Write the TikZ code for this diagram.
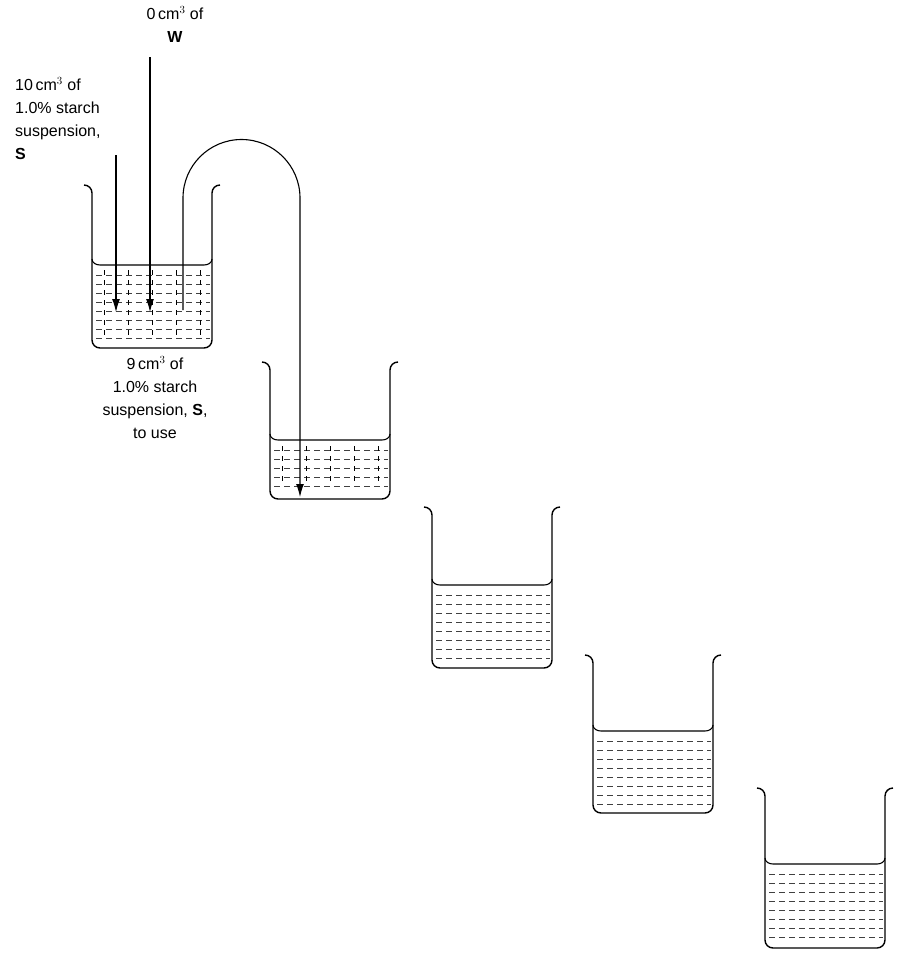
\documentclass[tikz,border=0pt]{standalone}
\usepackage{fontspec}
\setmainfont{Liberation Sans}
\usetikzlibrary{arrows.meta}
\begin{document}
\begin{tikzpicture}[x=1pt,y=-1pt,
  wall/.style={line width=1.4pt,line join=round},
  liq/.style={line width=0.5pt,dash pattern=on 6pt off 4pt,black!75},
  arr/.style={line width=1.1pt,-{Latex[length=13pt,width=8pt]}},
  lbl/.style={font=\fontsize{16}{23}\selectfont,align=center,inner sep=0pt}]
\useasboundingbox (0,0) rectangle (906,977);
\tikzset{beaker/.pic={
  \pgfmathsetmacro\ba{\bh+8}
  \pgfmathsetmacro\lb{\lq+6}
  \pgfmathsetmacro\fa{\lq+16}
  \pgfmathsetmacro\fb{\lq+25}
  \draw[wall] (-8,-4) to[out=0,in=90] (0,4) -- (0,\bh) to[out=-90,in=180] (8,\ba) -- (112,\ba) to[out=0,in=-90] (120,\bh) -- (120,4) to[out=90,in=180] (128,-4);
  \draw[line width=1.1pt] (0,\lq) to[out=-90,in=180] (8,\lb) -- (112,\lb) to[out=0,in=-90] (120,\lq);
  \foreach \yy in {\fa,\fb,...,\bh} {\draw[liq] (4,\yy) -- (118,\yy);}
}}
\def\bh{151}\def\lq{70}
\pic at (92,189) {beaker};
\foreach \xx in {104,128,152,176,200} {\draw[line width=0.4pt,dash pattern=on 5pt off 5pt] (\xx,270) -- (\xx,335);}
\def\bh{125}\def\lq{68}
\pic at (270,366) {beaker};
\foreach \xx in {282,306,330,354,378} {\draw[line width=0.4pt,dash pattern=on 5pt off 5pt] (\xx,446) -- (\xx,485);}
\def\bh{149}\def\lq{68}
\pic at (432,511) {beaker};
\def\bh{146}\def\lq{66}
\pic at (593,659) {beaker};
\def\bh{148}\def\lq{66}
\pic at (765,792) {beaker};
% labels
\node[lbl,anchor=north] (w) at (175,6) {0\,cm$^3$ of\\\textbf{W}};
\node[lbl,align=left,anchor=north west] (s) at (15,77) {10\,cm$^3$ of\\1.0\% starch\\suspension,\\\textbf{S}};
\node[lbl,anchor=north] (u) at (155,356) {9\,cm$^3$ of\\1.0\% starch\\suspension, \textbf{S},\\to use};
\coordinate (s1) at (116,155); \coordinate (s2) at (116,312);
\coordinate (w1) at (150,57); \coordinate (w2) at (150,312);
\draw[arr] (s1) -- (s2);
\draw[arr] (w1) -- (w2);
\coordinate (t1) at (183,310); \coordinate (t2) at (300,497);
\draw[arr] (t1) -- (183,198) arc[start angle=180,end angle=360,radius=58.5] -- (t2);
\end{tikzpicture}
\end{document}
